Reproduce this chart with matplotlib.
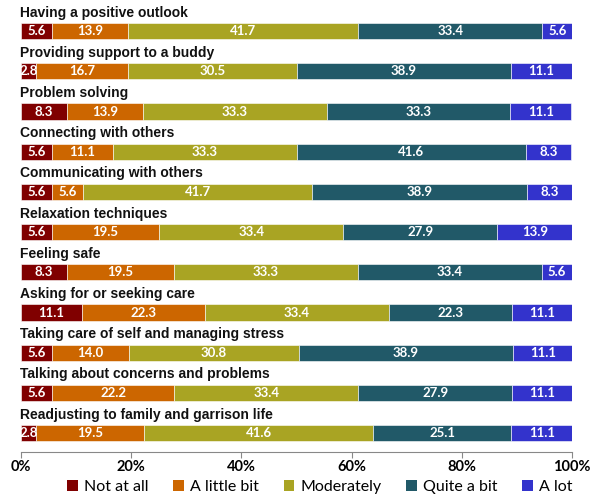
import matplotlib
matplotlib.use("Agg")
import matplotlib.pyplot as plt
import numpy as np
from matplotlib.patches import Patch

categories = [
    "Having a positive outlook",
    "Providing support to a buddy",
    "Problem solving",
    "Connecting with others",
    "Communicating with others",
    "Relaxation techniques",
    "Feeling safe",
    "Asking for or seeking care",
    "Taking care of self and managing stress",
    "Talking about concerns and problems",
    "Readjusting to family and garrison life",
]
series_names = ["Not at all", "A little bit", "Moderately", "Quite a bit", "A lot"]
not_at_all = [5.6, 2.8, 8.3, 5.6, 5.6, 5.6, 8.3, 11.1, 5.6, 5.6, 2.8]
a_little_bit = [13.9, 16.7, 13.9, 11.1, 5.6, 19.5, 19.5, 22.3, 14.0, 22.2, 19.5]
moderately = [41.7, 30.5, 33.3, 33.3, 41.7, 33.4, 33.3, 33.4, 30.8, 33.4, 41.6]
quite_a_bit = [33.4, 38.9, 33.3, 41.6, 38.9, 27.9, 33.4, 22.3, 38.9, 27.9, 25.1]
a_lot = [5.6, 11.1, 11.1, 8.3, 8.3, 13.9, 5.6, 11.1, 11.1, 11.1, 11.1]
colors = ["#800000", "#CC6600", "#A9A423", "#215968", "#3333CC"]
xticks = [0, 20, 40, 60, 80, 100]
xticklabels = ["0%", "20%", "40%", "60%", "80%", "100%"]

series = [not_at_all, a_little_bit, moderately, quite_a_bit, a_lot]

W, H = 599, 496
fig = plt.figure(figsize=(W / 100, H / 100), dpi=100)
ax = fig.add_axes([21 / W, (H - 452) / H, 551 / W, 447 / H])

y = np.arange(len(categories))
left = np.zeros(len(categories))
for vals, col in zip(series, colors):
    vals = np.array(vals)
    ax.barh(y, vals, left=left, height=0.4, color=col, edgecolor="white", linewidth=0.4)
    for yi, l, v in zip(y, left, vals):
        ax.text(l + v / 2, yi, f"{v:.1f}", ha="center", va="center", color="white",
                fontsize=9.5, fontweight="bold", family="Lato")
    left += vals

for yi, cat in zip(y, categories):
    ax.text(-0.2, yi - 0.46, cat, ha="left", va="center", fontsize=10,
            fontweight="bold", family="Liberation Sans", color="#111111")

ax.set_xlim(0, 100)
ax.set_ylim(10.47, -0.65)
ax.set_xticks(xticks)
ax.set_xticklabels(xticklabels, fontsize=10.5, fontweight="bold", family="Lato")
ax.set_yticks([])
for s in ["top", "right", "left"]:
    ax.spines[s].set_visible(False)
ax.spines["bottom"].set_color("#888888")
ax.tick_params(axis="x", length=4, color="#888888", pad=2)

handles = [Patch(facecolor=c, edgecolor="none") for c in colors]
fig.legend(handles, series_names, loc="center", bbox_to_anchor=(320 / W, (H - 487) / H),
           ncol=5, frameon=False, prop={"family": "Lato", "size": 11.5},
           handlelength=0.65, handleheight=0.65, handletextpad=0.4, columnspacing=1.55)

fig.savefig("out.png", dpi=100)
